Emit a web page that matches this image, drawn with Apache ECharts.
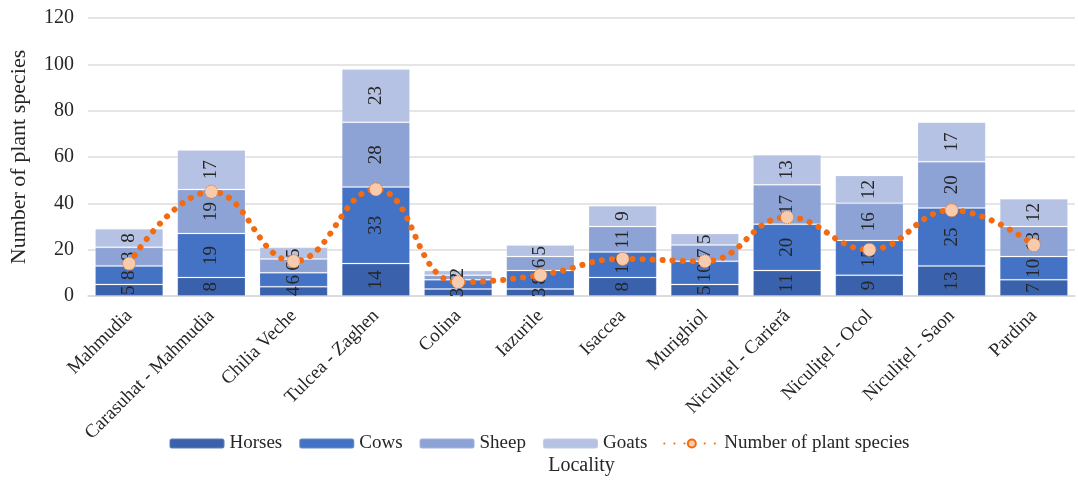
<!DOCTYPE html>
<html>
<head>
<meta charset="utf-8">
<script src="https://cdn.jsdelivr.net/npm/echarts@6/dist/echarts.min.js"></script>
<style>
  html, body { margin: 0; padding: 0; background: #fff; }
  #chart { width: 1078px; height: 481px; }
</style>
</head>
<body>
<div id="chart"></div>
<script>
// Livestock counts per locality and the number of plant species recorded there
const localities = ['Mahmudia', 'Carasuhat - Mahmudia', 'Chilia Veche', 'Tulcea - Zaghen', 'Colina', 'Iazurile',
  'Isaccea', 'Murighiol', 'Niculițel - Carieră', 'Niculițel - Ocol', 'Niculițel - Saon', 'Pardina'];
const horses = [5, 8, 4, 14, 3, 3, 8, 5, 11, 9, 13, 7];
const cows   = [8, 19, 6, 33, 4, 8, 11, 10, 20, 15, 25, 10];
const sheep  = [8, 19, 6, 28, 2, 6, 11, 7, 17, 16, 20, 13];
const goats  = [8, 17, 5, 23, 2, 5, 9, 5, 13, 12, 17, 12];
const plantSpecies = [14, 45, 15, 46, 6, 9, 16, 15, 34, 20, 37, 22];
const yTicks = [0, 20, 40, 60, 80, 100, 120];

const FONT = '"Liberation Serif", "DejaVu Serif", serif';
const TEXT = '#262626';

const barSeries = [
  { name: 'Horses', data: horses, color: '#3A62AC' },
  { name: 'Cows',   data: cows,   color: '#4472C4' },
  { name: 'Sheep',  data: sheep,  color: '#8EA3D5' },
  { name: 'Goats',  data: goats,  color: '#B6C2E3' }
].map(s => ({
  name: s.name,
  type: 'bar',
  stack: 'animals',
  data: s.data,
  barCategoryGap: '17%',
  itemStyle: { color: s.color, borderColor: 'rgba(255,255,255,0.18)', borderWidth: 1 },
  label: {
    show: true,
    position: 'inside',
    rotate: 90,
    fontFamily: FONT,
    fontSize: 19,
    color: TEXT
  },
  emphasis: { disabled: true }
}));

const chart = echarts.init(document.getElementById('chart'), null, { renderer: 'canvas' });
chart.setOption({
  animation: false,
  textStyle: { fontFamily: FONT },
  grid: { left: 84, right: 3, top: 18, bottom: 180, containLabel: false },
  legend: {
    bottom: 23,
    left: 'center',
    itemWidth: 55,
    itemHeight: 10,
    itemGap: 16,
    textStyle: { fontFamily: FONT, fontSize: 19, color: TEXT },
    data: ['Horses', 'Cows', 'Sheep', 'Goats', 'Number of plant species']
  },
  xAxis: {
    type: 'category',
    data: localities,
    name: 'Locality',
    nameLocation: 'middle',
    nameGap: 160,
    nameTextStyle: { fontFamily: FONT, fontSize: 20, color: TEXT },
    axisLine: { lineStyle: { color: '#D9D9D9', width: 1.5 } },
    axisTick: { show: false },
    axisLabel: {
      rotate: 45,
      interval: 0,
      margin: 17,
      fontFamily: FONT,
      fontSize: 19,
      color: TEXT
    }
  },
  yAxis: {
    type: 'value',
    min: yTicks[0],
    max: yTicks[yTicks.length - 1],
    interval: yTicks[1] - yTicks[0],
    name: 'Number of plant species',
    nameLocation: 'middle',
    nameGap: 58,
    nameTextStyle: { fontFamily: FONT, fontSize: 22, color: TEXT },
    axisLine: { show: false },
    axisTick: { show: false },
    axisLabel: { margin: 14, fontFamily: FONT, fontSize: 20, color: TEXT },
    splitLine: { lineStyle: { color: '#DCDCDC', width: 1.5 } }
  },
  series: [
    ...barSeries,
    {
      name: 'Number of plant species',
      type: 'line',
      data: plantSpecies,
      smooth: 0.45,
      symbol: 'circle',
      symbolSize: 13,
      itemStyle: {
        color: '#F8CBAD',
        borderColor: '#F26B12',
        borderWidth: 1,
        borderType: 'dotted'
      },
      lineStyle: {
        color: '#F26B12',
        width: 6,
        type: [0.1, 10],
        cap: 'round'
      },
      z: 5,
      emphasis: { disabled: true }
    }
  ]
});
</script>
</body>
</html>
